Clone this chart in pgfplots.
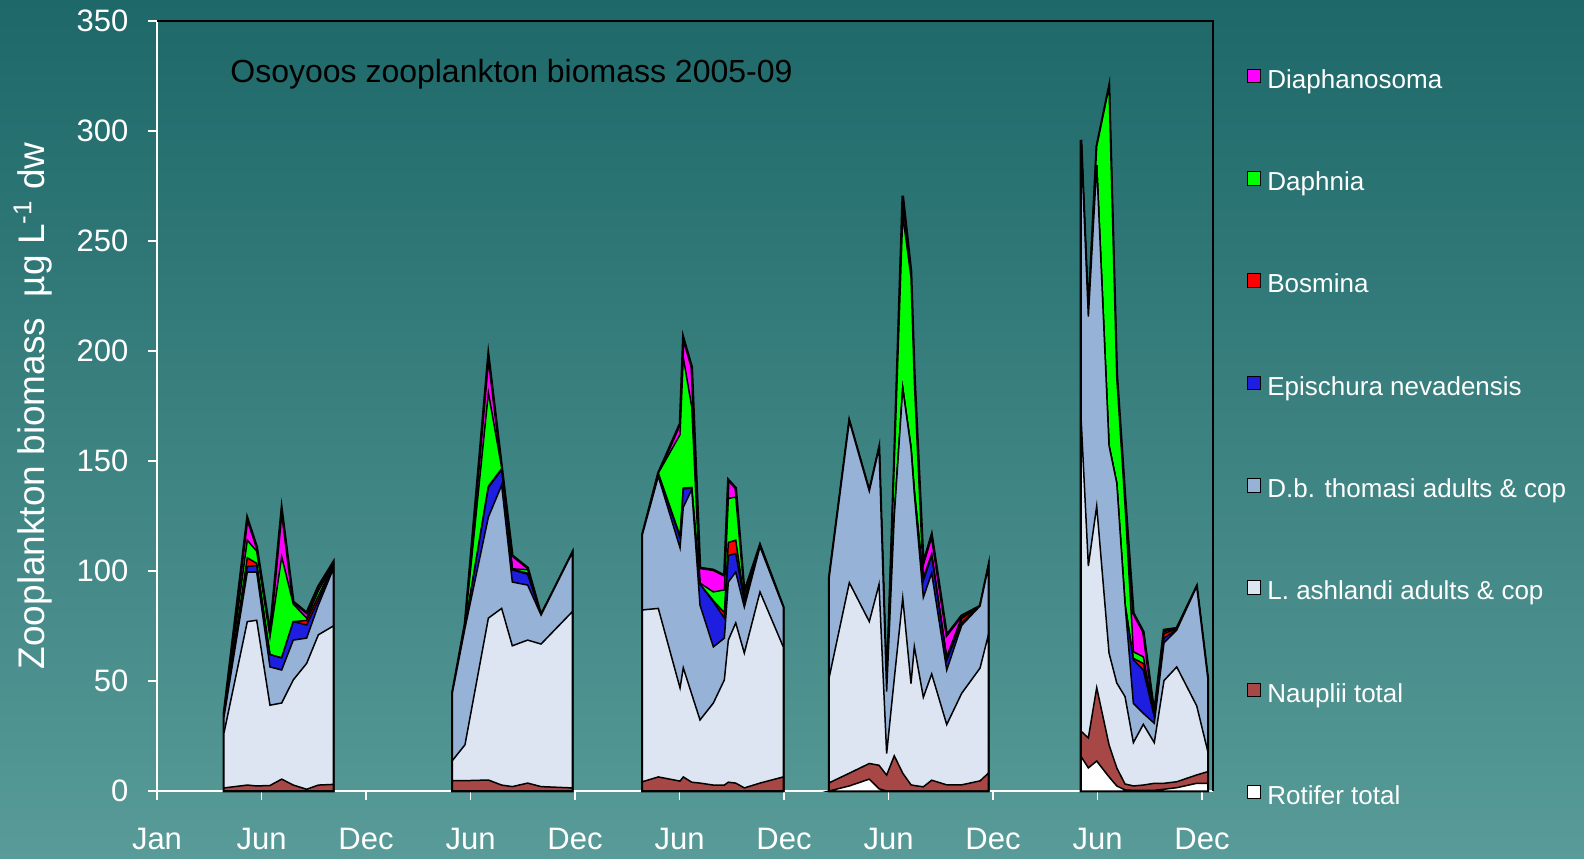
\documentclass[border=0pt]{standalone}
\usepackage{pgfplots}
\pgfplotsset{compat=1.18}
\usepackage{pgfplotstable}
\usepackage{fontspec}
\setmainfont{Liberation Sans}

\definecolor{bgtop}{RGB}{30,104,105}
\definecolor{bgbot}{RGB}{88,155,152}
\definecolor{cDia}{RGB}{255,0,255}
\definecolor{cDap}{RGB}{0,255,0}
\definecolor{cBos}{RGB}{255,0,0}
\definecolor{cEpi}{RGB}{30,30,225}
\definecolor{cDbt}{RGB}{150,178,214}
\definecolor{cLas}{RGB}{220,229,241}
\definecolor{cNau}{RGB}{168,72,70}
\definecolor{cRot}{RGB}{255,255,255}

% cumulative values (top of each layer), bottom to top
\pgfplotstableread{
x     rot  nau  las   dbt   epi   bos   dap   tot
0.641 0    1.4  26.4  33.6  34    34.5  35    35.5
0.864 0    2.7  77    99.5  102   106   114   124
0.954 0    2.3  77.6  99.5  102.5 103.5 109   111
1.081 0    2.5  39    56.4  62    62    70    72
1.193 0    5.4  40    55    60.5  60.5  106.5 128
1.304 0    2.7  50.5  68.6  77    77    85    86
1.432 0    0.8  58    69.5  75.5  77.5  78.6  81
1.544 0    2.7  71    84.5  86.6  88.6  91    93
1.687 0    3    75    101   102.6 102.8 103   104
}\ya
\pgfplotstableread{
x     rot  nau  las   dbt   epi   bos   dap   tot
2.826 0    4.7  13.8  44.5  44.5  44.5  44.5  44.5
2.947 0    4.7  21    74    74.5  75    75.5  76
3.171 0    5    78.6  124.5 138   138.5 181   198
3.298 0    2.7  83    139   146   146.5 147   147.5
3.400 0    2    66    95    100.5 100.8 101   107
3.547 0    3.6  68.6  93.6  98.5  99    100.6 101.4
3.675 0    2    66.8  80    80    80    80    80
3.974 0    1.4  81.5  108.3 108.3 108.3 108.3 108.3
}\yb
\pgfplotstableread{
x     rot  nau  las   dbt   epi   bos   dap   tot
4.644 0    4.2  82.3  116.4 116.4 116.4 116.4 116.4
4.797 0    6.4  83    143   144   144.5 144.5 144.5
5.005 0    4.5  46.8  110.5 115   116   162   167
5.036 0    6.4  56    129   137.3 137.7 197   206
5.117 0    4    44    137   137.7 138   174.5 192.7
5.196 0    3.6  32.3  84.5  94    94    94.5  101.4
5.324 0    2.7  40    65.5  86    86.5  90.5  100.5
5.429 0    2.7  50.5  69.5  78.6  81    91.4  98
5.467 0    4    68.6  95    107   113   133   141.4
5.538 0    3.6  76.4  99.5  108   114   133.6 137.7
5.620 0    1.4  62.7  83.6  86    87    89.5  90.5
5.770 0    3.6  90.5  111   111.5 111.8 111.8 111.8
5.993 0    6.4  65.5  83.6  83.6  83.6  83.6  83.6
}\yc
\pgfplotstableread{
x     rot  nau  las   dbt   epi   bos   dap   tot
6.431 0    3.7  51.4  96.5  96.5  96.5  96.5  96.5
6.625 2.3  8.1  94.7  168.1 168.1 168.1 168.1 168.1
6.816 5.4  12.5 77    136.3 136.3 136.3 136.3 136.3
6.909 1    11.7 93.9  155.7 155.7 155.7 155.7 155.7
6.982 0    7.2  17    45.2  45.2  45.2  45.2  45.2
7.055 0    16   51    125   125   125   149   150
7.136 0    8.1  87.7  183.1 183.1 183.1 261.8 270.6
7.215 0    2.8  48.8  155.7 156   156.5 233.5 236.2
7.247 0    2.5  65.6  135   136   137   186   190
7.333 0    1.9  42.6  88    95.6  96    97    103.6
7.413 0    4.9  53.2  99    107   107.3 107.5 116.4
7.557 0    2.8  30.2  55    59.4  60    61    70.9
7.700 0    2.8  44.4  75.3  76.6  78.4  79    79.7
7.876 0    4.6  55.9  84.1  84.1  84.1  84.1  84.1
7.955 0    8.1  70.9  101.8 101.8 101.8 101.8 101.8
}\yd
\pgfplotstableread{
x      rot  nau  las   dbt   epi   bos   dap   tot
8.842  15.7 27.2 170   295.9 295.9 295.9 295.9 295.9
8.912  10.5 24.1 102.3 215.6 215.6 215.6 215.6 215.6
8.992  13.6 47   129.5 284.5 284.5 284.5 292.9 292.9
9.110  6.4  21   62.7  157   157   157   320   320
9.184  2.3  10.5 49.1  140   140   140   188   190
9.263  0.5  3.2  42.9  85    85    85    130   134
9.343  0.3  2.3  22    39.8  59.6  60.3  63.3  80.8
9.438  0.3  2.7  30.3  35.3  55    58    61    72.4
9.543  0.3  3.5  22    30.8  33.8  34    34.5  35.3
9.636  0.8  3.5  50.2  67.4  69.5  71.5  72.4  73.2
9.758  1.5  4.2  56.4  73.2  73.5  73.8  74    74
9.949  3.5  7.3  38.7  92.9  92.9  92.9  92.9  92.9
10.055 3.5  8.8  18    51.2  51.2  51.2  51.2  51.2
}\ye

\newcommand{\layers}[2]{%
  \addplot[#2,fill=cDia,draw=black,line width=1.3pt] table[x=x,y=tot]{#1}\closedcycle;
  \addplot[#2,fill=cDap,draw=black,line width=0.75pt] table[x=x,y=dap]{#1}\closedcycle;
  \addplot[#2,fill=cBos,draw=black,line width=0.75pt] table[x=x,y=bos]{#1}\closedcycle;
  \addplot[#2,fill=cEpi,draw=black,line width=0.75pt] table[x=x,y=epi]{#1}\closedcycle;
  \addplot[#2,fill=cDbt,draw=black,line width=0.75pt] table[x=x,y=dbt]{#1}\closedcycle;
  \addplot[#2,fill=cLas,draw=black,line width=0.75pt] table[x=x,y=las]{#1}\closedcycle;
  \addplot[#2,fill=cNau,draw=black,line width=0.75pt] table[x=x,y=nau]{#1}\closedcycle;
  \addplot[#2,fill=cRot,draw=black,line width=0.75pt] table[x=x,y=rot]{#1}\closedcycle;
}

\begin{document}
\begin{tikzpicture}
\shade[top color=bgtop, bottom color=bgbot] (0,0) rectangle (792pt,429pt);
\begin{axis}[
  at={(78.5pt,33.5pt)}, anchor=south west,
  width=528pt, height=385pt, scale only axis,
  xmin=0, xmax=10.105, ymin=0, ymax=350,
  clip=false,
  axis x line*=bottom, axis y line*=left,
  axis line style={white, line width=0.8pt, -},
  xtick={0,...,10},
  xticklabels={Jan,Jun,Dec,Jun,Dec,Jun,Dec,Jun,Dec,Jun,Dec},
  ytick={0,50,...,350},
  minor tick num=0,
  tick align=outside, major tick length=4.5pt,
  tick style={white, line width=0.8pt},
  tick label style={font=\fontsize{15.5}{18}\selectfont, text=white},
  /pgf/number format/assume math mode=true,
  yticklabel style={anchor=east, inner sep=0pt, xshift=-9.6pt},
  xticklabel style={anchor=north, inner sep=0pt, yshift=-14pt},
  ylabel={Zooplankton biomass\ \ µg L\textsuperscript{-1} dw},
  ylabel style={at={(axis description cs:-0.107,0.5)}, anchor=base,
    font=\fontsize{18.5}{22}\selectfont, text=white, inner sep=0pt},
  legend style={draw=none, fill=none, at={(axis description cs:1.032,0.938)},
    anchor=north west, inner sep=0pt, outer sep=0pt, row sep=38.4pt, column sep=3pt,
    font=\fontsize{13}{15}\selectfont, text=white,
    nodes={inner sep=0pt, text height=9pt, text depth=3pt}},
  legend cell align=left,
  legend image code/.code={\draw[#1,line width=0.5pt] (0pt,-0.3pt) rectangle (6.8pt,6.5pt);},
]
\layers{\ya}{}
\layers{\yb}{forget plot}
\layers{\yc}{forget plot}
\layers{\yd}{forget plot}
\layers{\ye}{forget plot}
\legend{Diaphanosoma,Daphnia,Bosmina,Epischura nevadensis,D.b. thomasi adults \& cop,L. ashlandi adults \& cop,Nauplii total,Rotifer total}
\draw[black, line width=1.3pt] (rel axis cs:0,1) -- (rel axis cs:1,1) -- (rel axis cs:1,0);
\node[anchor=base west, inner sep=0pt, font=\fontsize{16}{19}\selectfont, text=black]
  at (axis description cs:0.0691,0.920) {Osoyoos zooplankton biomass 2005-09};
\end{axis}
\pgfresetboundingbox
\path[use as bounding box] (0,0) rectangle (792pt,429pt);
\end{tikzpicture}
\end{document}
